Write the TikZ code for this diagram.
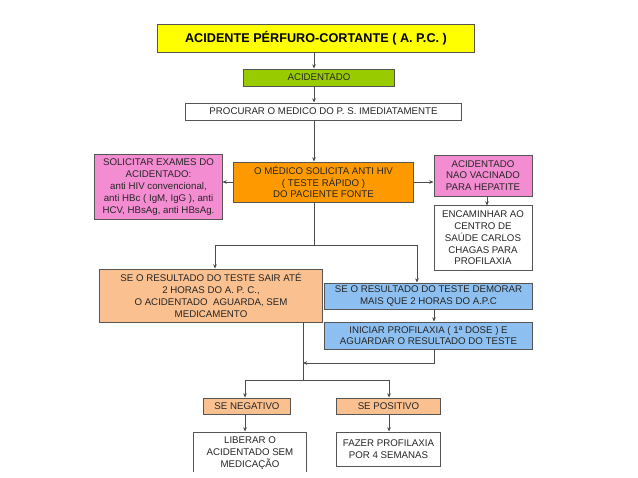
\documentclass[tikz,border=0pt]{standalone}
\usepackage{fontspec}
\setmainfont{Liberation Sans}
\usepackage{tikz}
\usetikzlibrary{arrows.meta,positioning,calc}

\definecolor{titleyellow}{HTML}{FFFF00}
\definecolor{acidgreen}{HTML}{99CC00}
\definecolor{exampink}{HTML}{F48CD2}
\definecolor{medorange}{HTML}{FF9900}
\definecolor{waitpeach}{HTML}{FAC08F}
\definecolor{lateblue}{HTML}{8DC0F0}
\definecolor{boxline}{HTML}{555555}

\begin{document}
\begin{tikzpicture}[
  x=0.025cm, y=-0.025cm,
  box/.style={draw=boxline, line width=0.7pt, align=center, inner sep=1pt,
    font=\fontsize{6.9}{8.4}\selectfont, text=black!85},
  arr/.style={-{Stealth[length=3pt,width=2.6pt]}, line width=0.6pt, color=black!70},
  link/.style={line width=0.6pt, color=black!70},
  >=Stealth
]
  \useasboundingbox (0,0) rectangle (638,478);
  \clip (0,0) rectangle (638,471);

  % Top column
  \node[box, fill=titleyellow, minimum width=7.9cm, minimum height=0.7cm,
    font=\fontsize{9}{11}\selectfont\bfseries, text=black] (title) at (316,38)
    {ACIDENTE PÉRFURO-CORTANTE ( A. P.C. )};
  \node[box, fill=acidgreen, minimum width=3.75cm, minimum height=0.425cm] (acid) at (319,77.5)
    {ACIDENTADO};
  \node[box, fill=white, minimum width=6.875cm, minimum height=0.425cm] (procurar) at (323.5,111.5)
    {PROCURAR O MEDICO DO P. S. IMEDIATAMENTE};
  \node[box, fill=medorange, minimum width=4.475cm, minimum height=1cm] (medico) at (323.5,182)
    {O MÉDICO SOLICITA ANTI HIV\\( TESTE RÁPIDO )\\DO PACIENTE FONTE};

  % Side boxes
  \node[box, fill=exampink, minimum width=3.175cm, minimum height=1.6cm] (exames) at (158.5,187)
    {SOLICITAR EXAMES DO\\ACIDENTADO:\\anti HIV convencional,\\anti HBc ( IgM, IgG ), anti\\HCV, HBsAg, anti HBsAg.};
  \node[box, fill=exampink, minimum width=2.45cm, minimum height=1.025cm] (naovac) at (483,175.5)
    {ACIDENTADO\\NAO VACINADO\\PARA HEPATITE};
  \node[box, fill=white, minimum width=2.45cm, minimum height=1.6cm] (encaminhar) at (483,238)
    {ENCAMINHAR AO\\CENTRO DE\\SAÚDE CARLOS\\CHAGAS PARA\\PROFILAXIA};

  % Result branches
  \node[box, fill=waitpeach, minimum width=5.55cm, minimum height=1.325cm] (aguarda) at (211,295.5)
    {SE O RESULTADO DO TESTE SAIR ATÉ\\2 HORAS DO A. P. C.,\\O ACIDENTADO\ \ AGUARDA, SEM\\MEDICAMENTO};
  \node[box, fill=lateblue, minimum width=5.175cm, minimum height=0.65cm] (demora) at (428.5,296)
    {SE O RESULTADO DO TESTE DEMORAR\\MAIS QUE 2 HORAS DO A.P.C};
  \node[box, fill=lateblue, minimum width=5.175cm, minimum height=0.675cm] (dose) at (428.5,335.5)
    {INICIAR PROFILAXIA ( 1ª DOSE ) E\\AGUARDAR O RESULTADO DO TESTE};

  % Outcomes
  \node[box, fill=waitpeach, minimum width=2.15cm, minimum height=0.4cm] (neg) at (247,406)
    {SE NEGATIVO};
  \node[box, fill=waitpeach, minimum width=2.575cm, minimum height=0.4cm] (pos) at (388.5,406)
    {SE POSITIVO};
  \node[box, fill=white, minimum width=2.8cm, minimum height=1.35cm, text depth=0pt] (liberar) at (250,459)
    {LIBERAR O\\ACIDENTADO SEM\\MEDICAÇÃO\\[1pt]};
  \node[box, fill=white, minimum width=2.575cm, minimum height=0.85cm] (fazer) at (388.5,449)
    {FAZER PROFILAXIA\\POR 4 SEMANAS};

  % Helper points
  \coordinate (spine) at (314,0);
  \coordinate (split) at (314,245);
  \coordinate (merge) at (303,363);
  \coordinate (fork) at (303,380);

  % Main column connectors
  \draw[arr] (title.south -| spine) -- (acid.north -| spine);
  \draw[arr] (acid.south -| spine) -- (procurar.north -| spine);
  \draw[arr] (procurar.south -| spine) -- (medico.north -| spine);
  \draw[arr] (medico.west) -- (medico.west -| exames.east);
  \draw[arr] (medico.east) -- (medico.east -| naovac.west);
  \draw[arr] (naovac.south -| 487,0) -- (encaminhar.north -| 487,0);

  % Split after the rapid test
  \draw[link] (medico.south -| spine) -- (split);
  \draw[arr] (split) -| (aguarda.north -| 215,0);
  \draw[arr] (split) -| (demora.north -| 417,0);
  \draw[arr] (demora.south -| 434,0) -- (dose.north -| 434,0);
  \draw[arr] (dose.south -| 434,0) |- (merge);

  % Merge and final fork
  \draw[link] (aguarda.south -| merge) -- (fork);
  \draw[arr] (fork) -| (neg.north -| 245,0);
  \draw[arr] (fork) -| (pos.north -| 389,0);
  \draw[arr] (neg.south -| 245,0) -- (liberar.north -| 245,0);
  \draw[arr] (pos.south -| 389,0) -- (fazer.north -| 389,0);
\end{tikzpicture}
\end{document}
